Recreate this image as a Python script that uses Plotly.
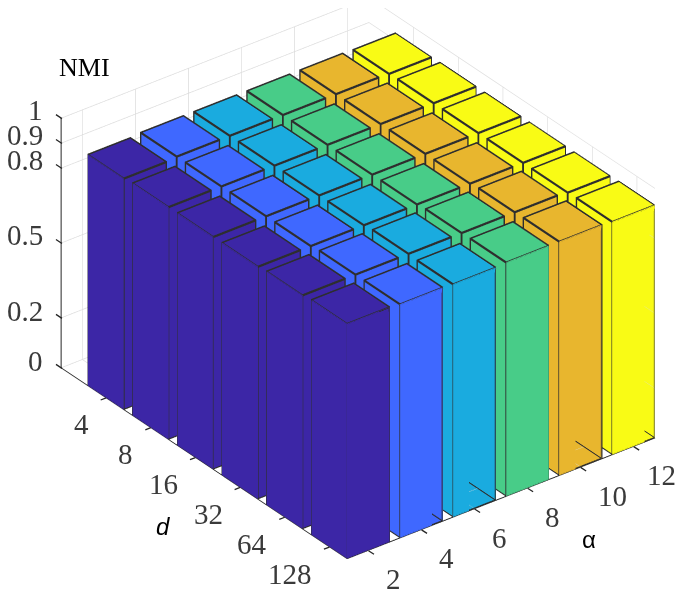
import plotly.graph_objects as go

alpha_labels = ["2", "4", "6", "8", "10", "12"]
d_labels = ["4", "8", "16", "32", "64", "128"]
z_ticks = [0, 0.2, 0.5, 0.8, 0.9, 1]
z_labels = ["0", "0.2", "0.5", "0.8", "0.9", "1"]
# rows: d, columns: alpha
nmi_d4 = [0.925, 0.93, 0.93, 0.93, 0.93, 0.928]
nmi_d8 = [0.93, 0.93, 0.93, 0.93, 0.93, 0.93]
nmi_d16 = [0.93, 0.93, 0.93, 0.93, 0.93, 0.93]
nmi_d32 = [0.93, 0.93, 0.93, 0.93, 0.93, 0.93]
nmi_d64 = [0.935, 0.935, 0.935, 0.935, 0.935, 0.93]
nmi_d128 = [0.94, 0.935, 0.932, 0.936, 0.936, 0.932]
nmi = [nmi_d4, nmi_d8, nmi_d16, nmi_d32, nmi_d64, nmi_d128]
colors = ["#3C26A6", "#3F68FF", "#1AABDF", "#48CC88", "#E8B62E", "#F9FB15"]

FONT = "Liberation Serif"
HALF = 0.4
W_XY = 0.0095   # half thickness of the bar outlines, data units
W_Z = 0.003
FLAT = dict(ambient=1, diffuse=0, specular=0, fresnel=0, roughness=1)
QUADS = [(0, 1, 2, 3), (4, 5, 6, 7), (0, 1, 5, 4), (1, 2, 6, 5), (2, 3, 7, 6), (3, 0, 4, 7)]


def add_box(store, x0, x1, y0, y1, z0, z1):
    X, Y, Z, I, J, K = store
    n = len(X)
    X += [x0, x1, x1, x0, x0, x1, x1, x0]
    Y += [y0, y0, y1, y1, y0, y0, y1, y1]
    Z += [z0, z0, z0, z0, z1, z1, z1, z1]
    for a, b, c, e in QUADS:
        I += [n + a, n + a]
        J += [n + b, n + c]
        K += [n + c, n + e]


fig = go.Figure()
edges = ([], [], [], [], [], [])
for j, col in enumerate(colors):
    bars = ([], [], [], [], [], [])
    for i, row in enumerate(nmi):
        h = row[j]
        cx, cy = j + 1, 6 - i
        x0, x1, y0, y1 = cx - HALF, cx + HALF, cy - HALF, cy + HALF
        add_box(bars, x0, x1, y0, y1, 0, h)
        for zv in (0, h):
            zlo, zhi = max(zv - W_Z, 0), zv + W_Z
            for yv in (y0, y1):
                add_box(edges, x0 - W_XY, x1 + W_XY, yv - W_XY, yv + W_XY, zlo, zhi)
            for xv in (x0, x1):
                add_box(edges, xv - W_XY, xv + W_XY, y0 - W_XY, y1 + W_XY, zlo, zhi)
        for xv in (x0, x1):
            for yv in (y0, y1):
                add_box(edges, xv - W_XY, xv + W_XY, yv - W_XY, yv + W_XY, 0, h + W_Z)
    fig.add_trace(go.Mesh3d(x=bars[0], y=bars[1], z=bars[2], i=bars[3], j=bars[4], k=bars[5], color=col,
                            flatshading=True, lighting=FLAT, hoverinfo="skip", showscale=False))
fig.add_trace(go.Mesh3d(x=edges[0], y=edges[1], z=edges[2], i=edges[3], j=edges[4], k=edges[5], color="#2e2e2e",
                        flatshading=True, lighting=FLAT, hoverinfo="skip", showscale=False))

common = dict(showbackground=False, showgrid=True, gridcolor="#dcdcdc", gridwidth=1.5, zeroline=False,
              showline=True, linecolor="#262626", linewidth=2, ticks="", showticklabels=False,
              title=dict(text=""), showspikes=False)
SC = 1.368
label_font = dict(family=FONT, size=29, color="#3a3a3a")
scene_notes = []


def tick_mark(x, y, z, ax, ay):
    return dict(x=x, y=y, z=z, text=" ", showarrow=True, arrowhead=0, arrowwidth=1.3, arrowcolor="#262626",
                ax=ax, ay=ay, standoff=0, font=dict(size=1))


for k, lab in enumerate(alpha_labels):
    scene_notes.append(dict(x=k + 1, y=0.6, z=0, text=lab, showarrow=False, font=label_font,
                            xanchor="left", yanchor="middle", xshift=15.5 - (4 if lab == "12" else 0), yshift=-28.5))
    scene_notes.append(tick_mark(k + 1, 0.6, 0, 7, 4.5))
for k, lab in enumerate(d_labels):
    scene_notes.append(dict(x=0.6, y=6 - k, z=0, text=lab, showarrow=False, font=label_font,
                            xanchor="right", yanchor="middle", xshift=-15.5, yshift=-26.5))
    scene_notes.append(tick_mark(0.6, 6 - k, 0, -7, 2.7))
for val in z_ticks:
    scene_notes.append(tick_mark(0.6, 6.99, val, -7.5, -5))
fig.update_layout(
    width=684, height=591, margin=dict(l=0, r=0, t=0, b=0), paper_bgcolor="white", showlegend=False,
    scene=dict(
        domain=dict(x=[0.024, 1], y=[0.04, 1]),
        xaxis=dict(common, range=[0.6, 6.4], tickmode="array", tickvals=[1, 2, 3, 4, 5, 6], ticktext=alpha_labels),
        yaxis=dict(common, range=[0.6, 7.0], tickmode="array", tickvals=[6, 5, 4, 3, 2, 1], ticktext=d_labels),
        zaxis=dict(common, range=[0, 1], tickmode="array", tickvals=z_ticks, ticktext=z_labels),
        aspectmode="manual", aspectratio=dict(x=1 * SC, y=1.212 * SC, z=0.749 * SC),
        camera=dict(projection=dict(type="orthographic"), eye=dict(x=-2.1, y=-2.74, z=2.0),
                    up=dict(x=0, y=0, z=1), center=dict(x=0, y=0, z=-0.055)),
        annotations=scene_notes,
    ),
)
W, H = 684, 591
for text, px, py, fam, size in [("NMI", 76, 59, FONT, 26), ("<i>d</i>", 155, 518, "Liberation Sans", 24),
                                ("α", 581, 531, "Liberation Sans", 24)]:
    fig.add_annotation(text=text, x=px / W, y=1 - py / H, xref="paper", yref="paper", showarrow=False,
                       xanchor="center", yanchor="middle", font=dict(family=fam, size=size, color="black"))
for val, lab in zip(z_ticks, z_labels):
    fig.add_annotation(text=lab, x=36.7 / W, y=1 - (353 - 251 * val) / H, xref="paper", yref="paper",
                       showarrow=False, xanchor="right", yanchor="middle", font=label_font)
fig.write_html("out.html")
